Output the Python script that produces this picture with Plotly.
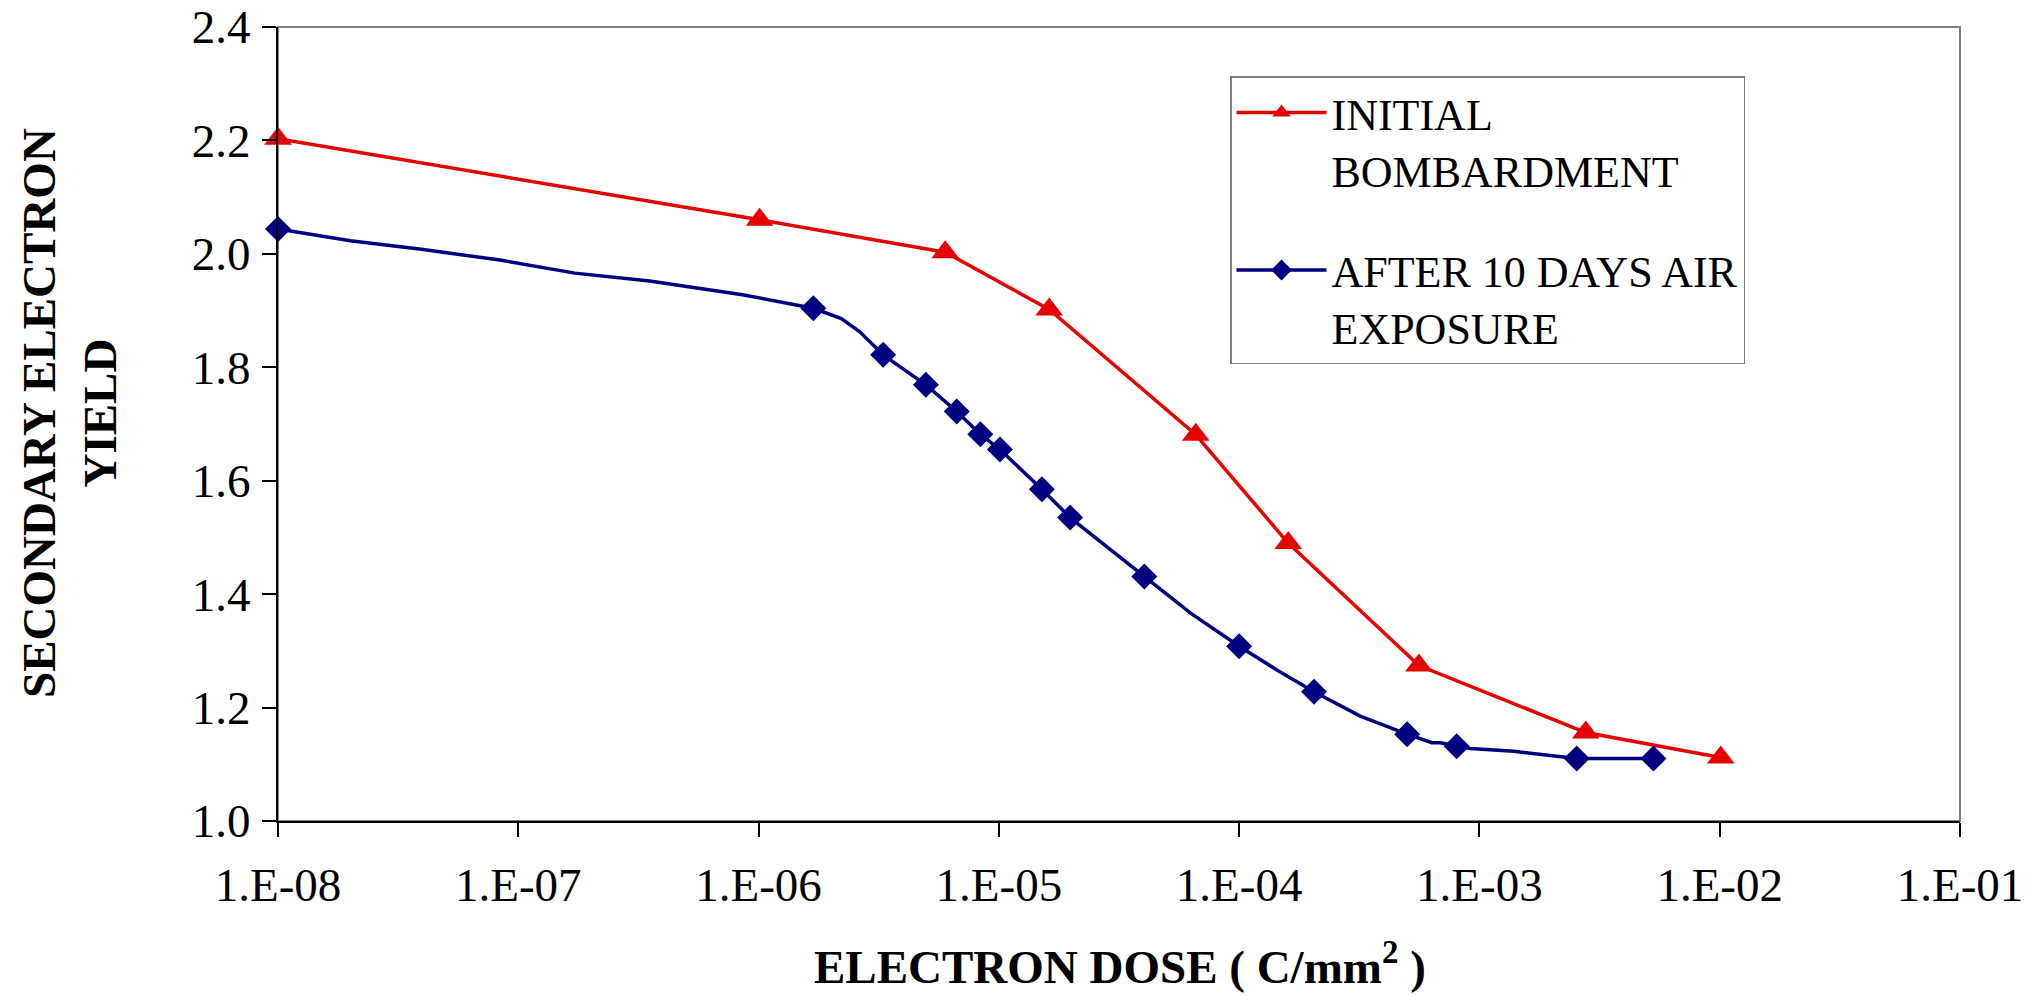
import plotly.graph_objects as go

# ---------------- data ----------------
red_name = "INITIAL<br>BOMBARDMENT"
red_x = [1.0e-8, 1.01e-6, 5.98e-6, 1.62e-5, 6.6e-5, 1.6e-4, 5.6e-4, 2.77e-3, 1.01e-2]
red_y = [2.203, 2.060, 2.003, 1.902, 1.681, 1.490, 1.274, 1.156, 1.112]

blue_name = "AFTER 10 DAYS AIR<br>EXPOSURE"
blue_x = [1.0e-8, 2.0e-8, 3.95e-8, 8.4e-8, 1.72e-7, 3.52e-7, 8.57e-7, 1.33e-6,
          1.69e-6, 2.21e-6, 2.63e-6, 3.3e-6, 4.97e-6, 6.68e-6, 8.37e-6, 1.01e-5,
          1.51e-5, 1.98e-5, 4.03e-5, 6.3e-5, 1.0e-4, 1.44e-4, 2.05e-4, 3.19e-4,
          5.0e-4, 6.34e-4, 6.87e-4, 8.04e-4, 9.16e-4, 1.39e-3, 2.54e-3, 5.3e-3]
blue_y = [2.044, 2.023, 2.008, 1.989, 1.966, 1.952, 1.928, 1.912,
          1.904, 1.886, 1.863, 1.822, 1.769, 1.722, 1.682, 1.655,
          1.585, 1.535, 1.431, 1.366, 1.308, 1.266, 1.228, 1.185,
          1.153, 1.138, 1.138, 1.132, 1.128, 1.123, 1.110, 1.110]
blue_marked = [1, 0, 0, 0, 0, 0, 0, 0,
               1, 0, 0, 1, 1, 1, 1, 1,
               1, 1, 1, 0, 1, 0, 1, 0,
               1, 0, 0, 1, 0, 0, 1, 1]

x_tickvals = [1e-8, 1e-7, 1e-6, 1e-5, 1e-4, 1e-3, 1e-2, 1e-1]
x_ticktext = ["1.E-08", "1.E-07", "1.E-06", "1.E-05", "1.E-04", "1.E-03", "1.E-02", "1.E-01"]
y_tickvals = [1.0, 1.2, 1.4, 1.6, 1.8, 2.0, 2.2, 2.4]

x_title = "ELECTRON DOSE ( C/mm<sup>2</sup> )"
y_title = "SECONDARY ELECTRON<br>YIELD"

# ---------------- styling ----------------
RED = "#E60000"
NAVY = "#000080"
FONT = "Liberation Serif"

W, H = 2031, 996
L, R, T, B = 278, 71, 27, 175
PW, PH = W - L - R, H - T - B

blue_colors = [NAVY if m else "rgba(0,0,0,0)" for m in blue_marked]

fig = go.Figure()
fig.add_trace(go.Scatter(
    x=red_x, y=red_y, name=red_name, mode="lines+markers", legendgroup="g1",
    line=dict(color=RED, width=3.5),
    marker=dict(symbol="triangle-up", size=24, color=RED, line=dict(width=0)),
    cliponaxis=False,
))
fig.add_trace(go.Scatter(
    x=blue_x, y=blue_y, name=blue_name, mode="lines+markers", legendgroup="g2",
    line=dict(color=NAVY, width=3.5),
    marker=dict(symbol="diamond", size=20, color=blue_colors, line=dict(width=0)),
    cliponaxis=False,
))

def px_to_paper_x(px):
    return (px - L) / PW

def px_to_paper_y(py):
    return (H - B - py) / PH

fig.update_layout(
    width=W, height=H,
    margin=dict(l=L, r=R, t=T, b=B, autoexpand=False),
    paper_bgcolor="white", plot_bgcolor="white",
    font=dict(family=FONT, color="black", size=47),
    showlegend=True,
    legend=dict(
        x=px_to_paper_x(1230), y=px_to_paper_y(76),
        xanchor="left", yanchor="top",
        bgcolor="white", bordercolor="#808080", borderwidth=1.5,
        font=dict(family=FONT, size=44, color="black"),
        itemwidth=90, tracegroupgap=40, valign="top",
        traceorder="grouped",
    ),
    xaxis=dict(
        type="log", range=[-8, -1],
        tickvals=x_tickvals, ticktext=x_ticktext,
        ticks="outside", ticklen=14, tickwidth=1.5, tickcolor="black",
        showline=True, linecolor="black", linewidth=2,
        showgrid=False, zeroline=False,
        tickfont=dict(family=FONT, size=47),
        ticklabelstandoff=8,
    ),
    yaxis=dict(
        range=[1.0, 2.4], tickvals=y_tickvals, tickformat=".1f",
        ticks="outside", ticklen=14, tickwidth=1.5, tickcolor="black",
        showline=True, linecolor="black", linewidth=2,
        showgrid=False, zeroline=False,
        tickfont=dict(family=FONT, size=47),
        ticklabelstandoff=2,
    ),
    shapes=[dict(
        type="rect", xref="paper", yref="paper", x0=0, y0=0, x1=1, y1=1,
        line=dict(color="#808080", width=2), layer="below",
    )],
    annotations=[
        dict(text="<b>" + x_title + "</b>", xref="paper", yref="paper",
             x=px_to_paper_x(1120), y=px_to_paper_y(995),
             xanchor="center", yanchor="bottom", showarrow=False,
             font=dict(family=FONT, size=47, color="black")),
        dict(text="<b>" + y_title + "</b>", xref="paper", yref="paper",
             x=px_to_paper_x(69), y=px_to_paper_y(413),
             xanchor="center", yanchor="middle", showarrow=False, textangle=-90,
             font=dict(family=FONT, size=47, color="black")),
    ],
)

fig.write_html("out.html")
